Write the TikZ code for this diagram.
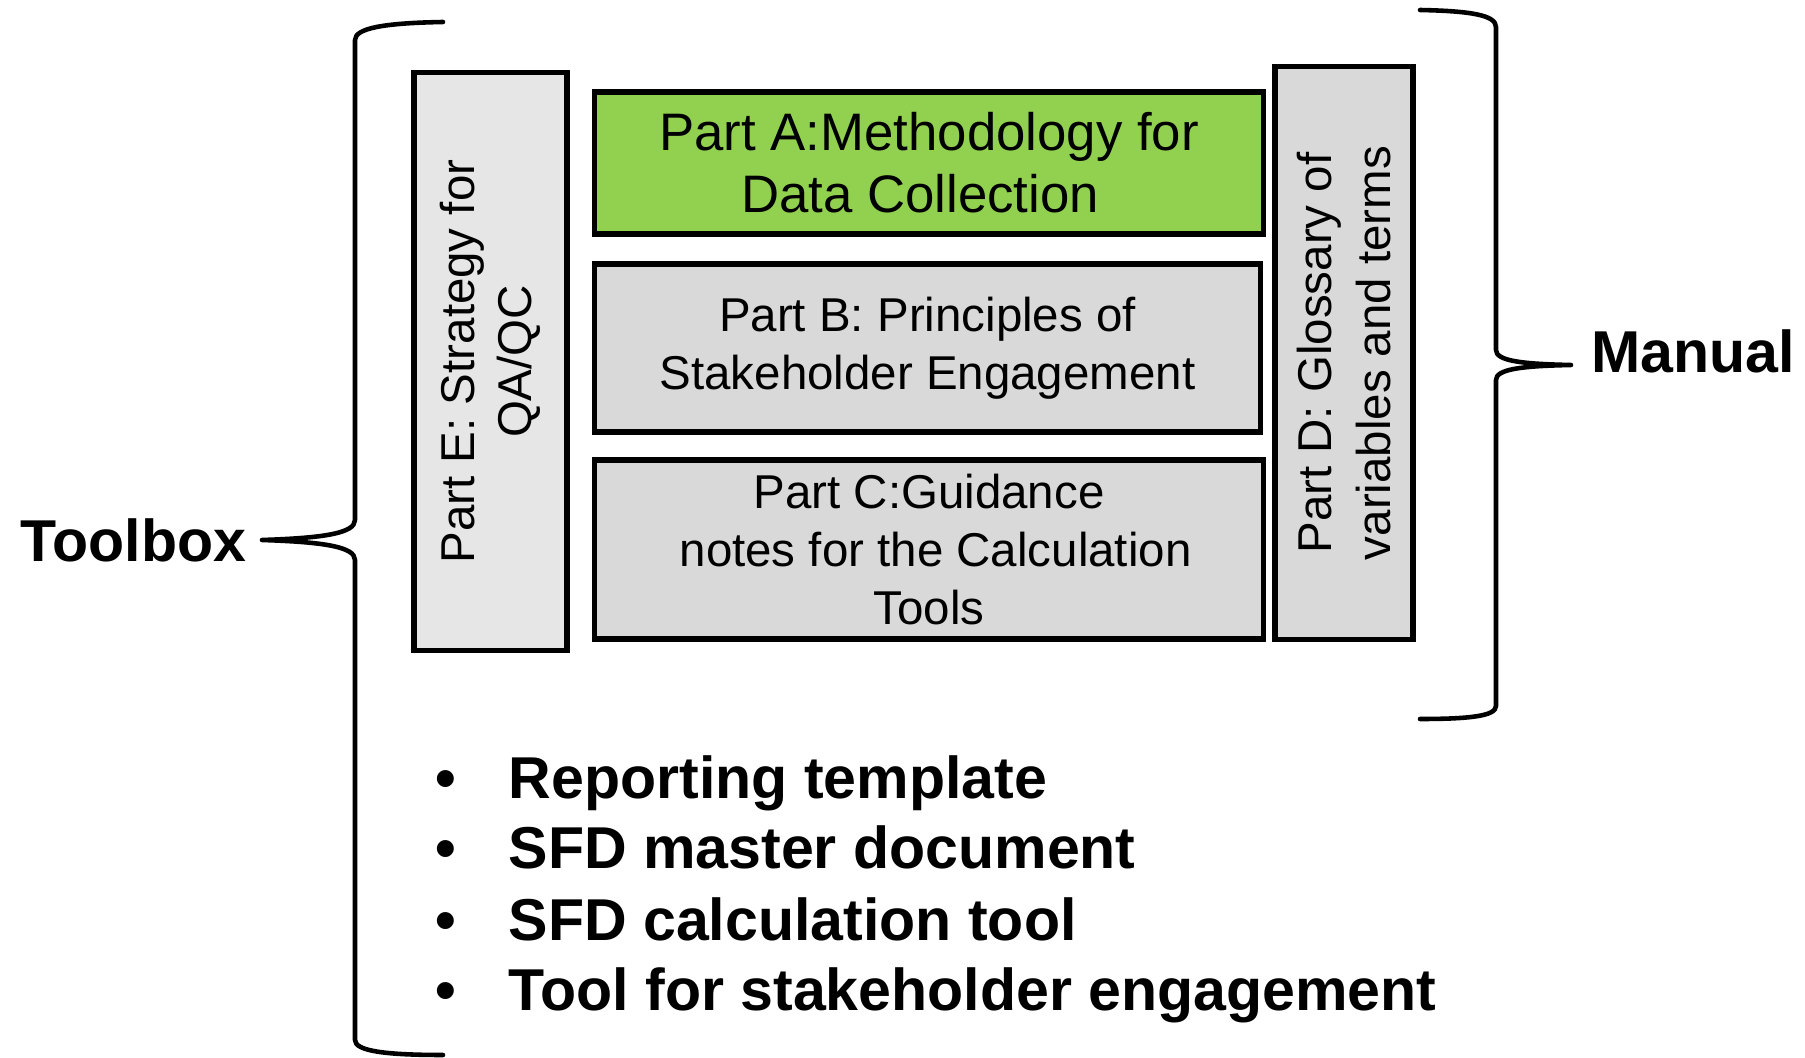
\documentclass[tikz,border=0pt]{standalone}
\usepackage{fontspec}
\setmainfont{Liberation Sans}
\usetikzlibrary{calc}
\definecolor{partgreen}{HTML}{92D050}
\definecolor{partgrey}{HTML}{D9D9D9}
\definecolor{partlight}{HTML}{E6E6E6}
\tikzstyle{partbox}=[draw=black,line width=1.5pt,fill=partgrey,align=center,inner sep=0pt,font=\fontsize{13.5}{16.6}\selectfont]
\tikzstyle{bracket}=[line width=1.3pt,line cap=round,line join=round]
\tikzstyle{biglabel}=[font=\fontsize{16.8}{20}\selectfont\bfseries,inner sep=0pt]
% one bullet line of the toolbox list: [index]{y of baseline}{text}
\newcommand{\toolitem}[3]{
	\node[biglabel,anchor=base] (bul#1) at (446,#2) {•};
	\node[biglabel,anchor=base west] (item#1) at (508,#2) {#3};
}

\begin{document}
\begin{tikzpicture}[x=0.01cm,y=-0.01cm]
	\useasboundingbox (0,0) rectangle (1805,1058);
	% the five parts
	\node[partbox,fill=partlight,rotate=90,minimum width=5.77cm,minimum height=1.53cm,
		font=\fontsize{13.5}{16.3}\selectfont] (partE) at (490.5,361.5) {Part E: Strategy for\\QA/QC};
	\node[partbox,fill=partgreen,minimum width=6.68cm,minimum height=1.42cm,
		font=\fontsize{15}{17.6}\selectfont] (partA) at (929,163) {Part A:Methodology for\\Data Collection\hspace*{5pt}};
	\node[partbox,minimum width=6.65cm,minimum height=1.68cm] (partB) at (927.5,348) {Part B: Principles of\\Stakeholder Engagement};
	\node[partbox,minimum width=6.68cm,minimum height=1.79cm,
		font=\fontsize{13.5}{16.5}\selectfont] (partC) at (929,549.5) {Part C:Guidance\\\ notes for the Calculation\\Tools};
	\node[partbox,rotate=90,minimum width=5.72cm,minimum height=1.38cm] (partD) at (1344,353) {Part D: Glossary of\\variables and terms};

	% labels
	\node[biglabel,anchor=base west] (toolbox) at (20,562) {Toolbox};
	\node[biglabel,anchor=base west] (manual) at (1591,373) {Manual};
	\coordinate (ltip) at (262,540);
	\coordinate (rtip) at (1571,365);

	% left brace (toolbox)
	\draw[bracket] (443,22) .. controls (385,23) and (355,28) .. (355,40) -- (355,520)
		.. controls (355,533) and (325,538) .. (ltip)
		.. controls (325,542) and (355,547) .. (355,560) -- (355,1040)
		.. controls (355,1051) and (385,1055) .. (443,1055);
	% right brace (manual)
	\draw[bracket] (1420,10) .. controls (1470,11) and (1496,15) .. (1496,27) -- (1496,350)
		.. controls (1496,361) and (1522,364) .. (rtip)
		.. controls (1522,366) and (1496,369) .. (1496,380) -- (1496,706)
		.. controls (1496,716) and (1470,719) .. (1420,719);

	% toolbox contents
	\toolitem{1}{799}{Reporting template}
	\toolitem{2}{869}{SFD master document}
	\toolitem{3}{940}{SFD calculation tool}
	\toolitem{4}{1010}{Tool for stakeholder engagement}
\end{tikzpicture}
\end{document}
